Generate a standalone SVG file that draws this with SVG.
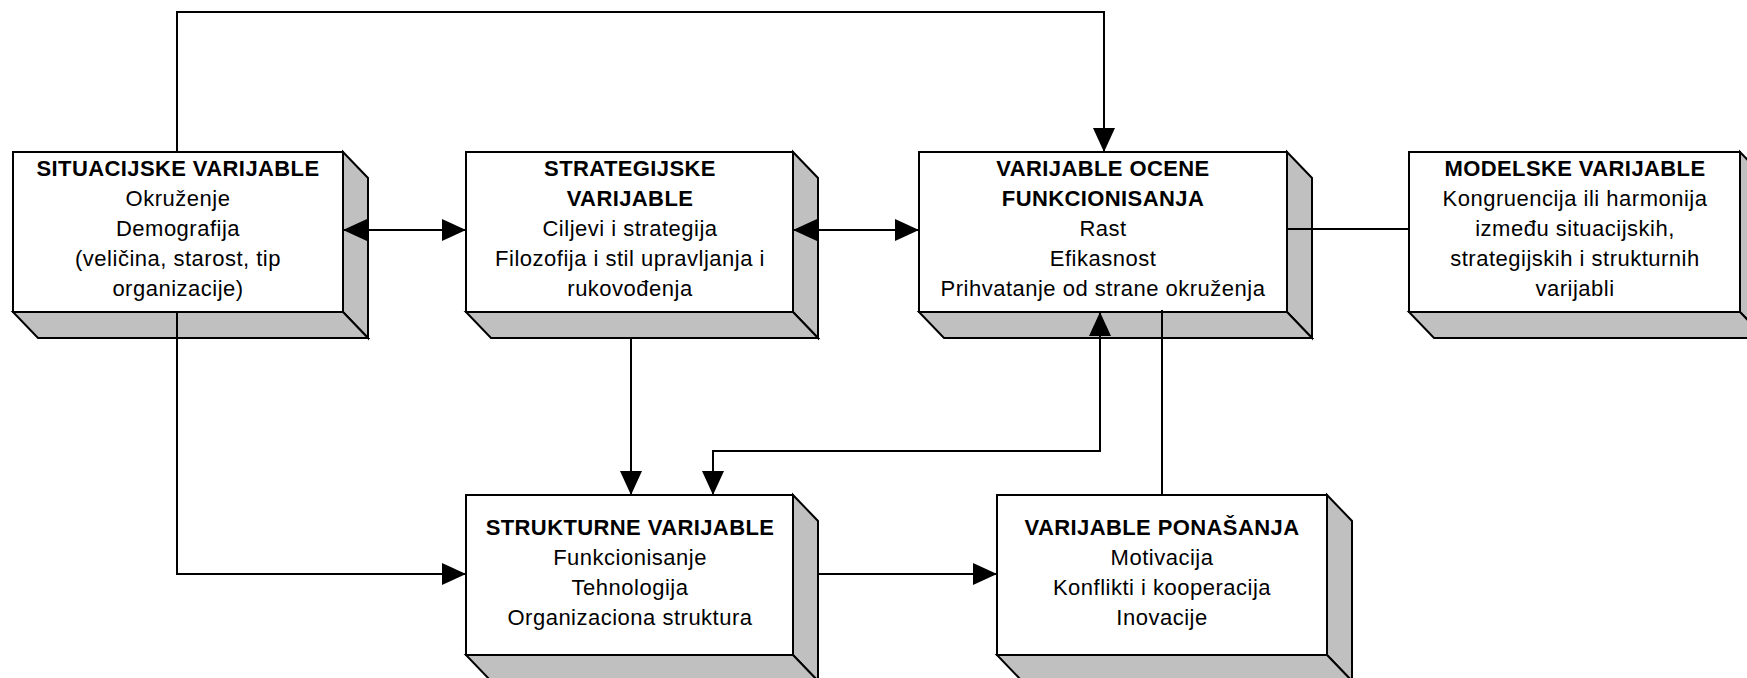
<svg xmlns="http://www.w3.org/2000/svg" width="1747" height="678" viewBox="0 0 1747 678">
  <defs>
    <style>
      .front { fill: #ffffff; stroke: #000; stroke-width: 2; }
      .face { fill: #c0c0c0; stroke: #000; stroke-width: 2; stroke-linejoin: miter; }
      .title { font-family: "Liberation Sans", Arial, sans-serif; font-size: 22px; font-weight: bold; fill: #000; text-anchor: middle; letter-spacing: 0.4px; }
      .item { font-family: "Liberation Sans", Arial, sans-serif; font-size: 22px; fill: #000; text-anchor: middle; letter-spacing: 0.5px; }
      .link { fill: none; stroke: #000; stroke-width: 2; }
    </style>
    <marker id="arrow" viewBox="0 0 24 22" refX="24" refY="11" markerWidth="24" markerHeight="22" markerUnits="userSpaceOnUse" orient="auto-start-reverse">
      <path d="M0,0 L24,11 L0,22 Z" fill="#000"/>
    </marker>
  </defs>

  <rect width="1747" height="678" fill="#ffffff"/>

  <!-- Situational variables -->
  <g id="situacijske">
    <polygon class="face" points="343,152 368,178 368,338 343,312"/>
    <polygon class="face" points="13,312 343,312 368,338 38,338"/>
    <rect class="front" x="13" y="152" width="330" height="160"/>
    <text class="title" x="178" y="176">SITUACIJSKE VARIJABLE</text>
    <text class="item" x="178" y="206">Okruženje</text>
    <text class="item" x="178" y="236">Demografija</text>
    <text class="item" x="178" y="266">(veličina, starost, tip</text>
    <text class="item" x="178" y="296">organizacije)</text>
  </g>

  <!-- Strategic variables -->
  <g id="strategijske">
    <polygon class="face" points="793,152 818,178 818,338 793,312"/>
    <polygon class="face" points="466,312 793,312 818,338 491,338"/>
    <rect class="front" x="466" y="152" width="327" height="160"/>
    <text class="title" x="630" y="176">STRATEGIJSKE</text>
    <text class="title" x="630" y="206">VARIJABLE</text>
    <text class="item" x="630" y="236">Ciljevi i strategija</text>
    <text class="item" x="630" y="266">Filozofija i stil upravljanja i</text>
    <text class="item" x="630" y="296">rukovođenja</text>
  </g>

  <!-- Performance evaluation variables -->
  <g id="ocene">
    <polygon class="face" points="1287,152 1312,178 1312,338 1287,312"/>
    <polygon class="face" points="919,312 1287,312 1312,338 944,338"/>
    <rect class="front" x="919" y="152" width="368" height="160"/>
    <text class="title" x="1103" y="176">VARIJABLE OCENE</text>
    <text class="title" x="1103" y="206">FUNKCIONISANJA</text>
    <text class="item" x="1103" y="236">Rast</text>
    <text class="item" x="1103" y="266">Efikasnost</text>
    <text class="item" x="1103" y="296">Prihvatanje od strane okruženja</text>
  </g>

  <!-- Model variables -->
  <g id="modelske">
    <polygon class="face" points="1740,152 1765,178 1765,338 1740,312"/>
    <polygon class="face" points="1409,312 1740,312 1765,338 1434,338"/>
    <rect class="front" x="1409" y="152" width="331" height="160"/>
    <text class="title" x="1575" y="176">MODELSKE VARIJABLE</text>
    <text class="item" x="1575" y="206">Kongruencija ili harmonija</text>
    <text class="item" x="1575" y="236">između situacijskih,</text>
    <text class="item" x="1575" y="266">strategijskih i strukturnih</text>
    <text class="item" x="1575" y="296">varijabli</text>
  </g>

  <!-- Structural variables -->
  <g id="strukturne">
    <polygon class="face" points="793,495 818,521 818,681 793,655"/>
    <polygon class="face" points="466,655 793,655 818,681 491,681"/>
    <rect class="front" x="466" y="495" width="327" height="160"/>
    <text class="title" x="630" y="535">STRUKTURNE VARIJABLE</text>
    <text class="item" x="630" y="565">Funkcionisanje</text>
    <text class="item" x="630" y="595">Tehnologija</text>
    <text class="item" x="630" y="625">Organizaciona struktura</text>
  </g>

  <!-- Behavioural variables -->
  <g id="ponasanja">
    <polygon class="face" points="1327,495 1352,521 1352,681 1327,655"/>
    <polygon class="face" points="997,655 1327,655 1352,681 1022,681"/>
    <rect class="front" x="997" y="495" width="330" height="160"/>
    <text class="title" x="1162" y="535">VARIJABLE PONAŠANJA</text>
    <text class="item" x="1162" y="565">Motivacija</text>
    <text class="item" x="1162" y="595">Konflikti i kooperacija</text>
    <text class="item" x="1162" y="625">Inovacije</text>
  </g>

  <!-- Connectors -->
  <g id="connectors">
    <path class="link" d="M177,152 V12 H1104 V152" marker-end="url(#arrow)"/>
    <path class="link" d="M343,230 H466" marker-start="url(#arrow)" marker-end="url(#arrow)"/>
    <path class="link" d="M793,230 H919" marker-start="url(#arrow)" marker-end="url(#arrow)"/>
    <path class="link" d="M1287,229 H1409"/>
    <path class="link" d="M1100,312 V451 H713 V495" marker-start="url(#arrow)" marker-end="url(#arrow)"/>
    <path class="link" d="M1162,310 V495"/>
    <path class="link" d="M631,338 V495" marker-end="url(#arrow)"/>
    <path class="link" d="M177,312 V574 H466" marker-end="url(#arrow)"/>
    <path class="link" d="M818,574 H997" marker-end="url(#arrow)"/>
  </g>
</svg>
